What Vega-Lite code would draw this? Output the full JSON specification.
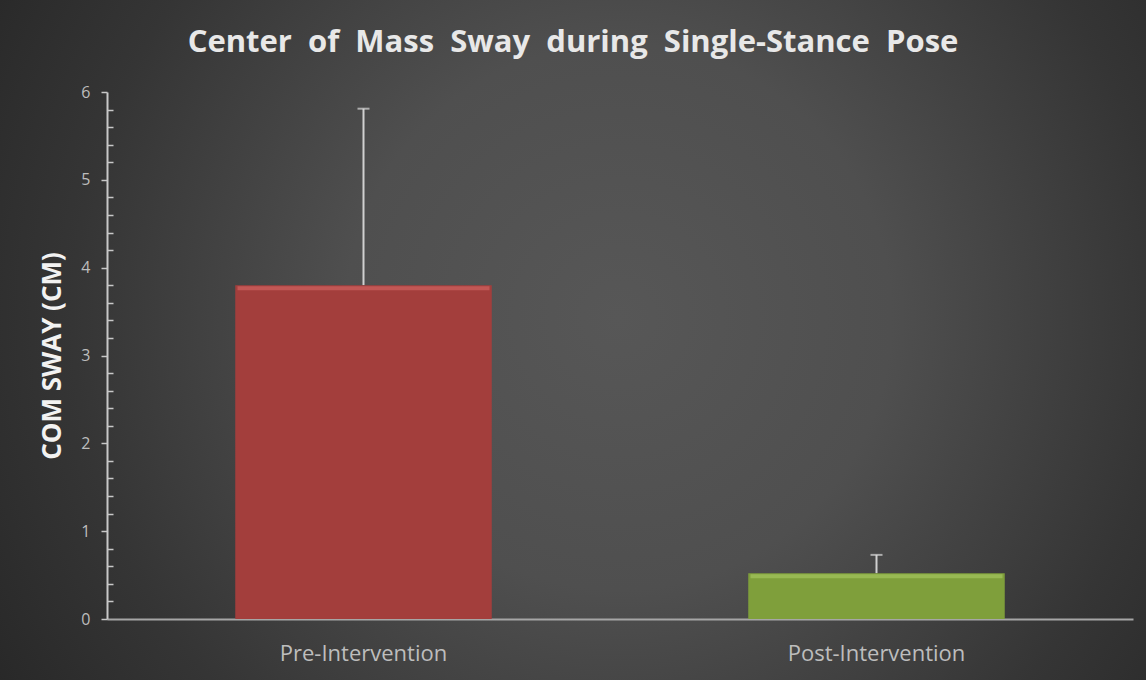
{
  "$schema": "https://vega.github.io/schema/vega-lite/v6.json",
  "autosize": {"type": "none"},
  "padding": 0,
  "width": 1146,
  "height": 680,
  "background": "#242424",
  "title": {
    "text": "Center\u00a0 of\u00a0 Mass\u00a0 Sway\u00a0 during\u00a0 Single-Stance\u00a0 Pose",
    "fontSize": 31,
    "fontWeight": "bold",
    "font": "Open Sans",
    "color": "#e8e8e8",
    "frame": "group",
    "anchor": "middle",
    "offset": -59
  },
  "config": {
    "view": {
      "stroke": null,
      "fill": {
        "gradient": "radial",
        "x1": 0.54, "y1": 0.48, "r1": 0,
        "x2": 0.54, "y2": 0.48, "r2": 0.68,
        "stops": [
          {"offset": 0, "color": "#575757"},
          {"offset": 0.35, "color": "#4f4f4f"},
          {"offset": 0.7, "color": "#353535"},
          {"offset": 1, "color": "#242424"}
        ]
      }
    },
    "font": "Open Sans"
  },
  "data": {
    "values": [
      {"phase": "Pre-Intervention", "mean": 3.8, "upper": 5.81},
      {"phase": "Post-Intervention", "mean": 0.52, "upper": 0.73}
    ]
  },
  "encoding": {
    "x": {
      "field": "phase",
      "type": "nominal",
      "sort": null,
      "scale": {"paddingInner": 0.5, "paddingOuter": 0.25, "range": [107, 1133]},
      "axis": {
        "title": null,
        "offset": -61,
        "labelAngle": 0,
        "labelFontSize": 22,
        "labelColor": "#bdbdbd",
        "labelPadding": 24,
        "ticks": false,
        "domainColor": "#a6a6a6",
        "domainWidth": 2
      }
    }
  },
  "resolve": {"scale": {"color": "independent"}},
  "layer": [
    {
      "mark": {"type": "rule", "color": "#d0d0d0", "strokeWidth": 2},
      "encoding": {
        "y": {"field": "mean", "type": "quantitative"},
        "y2": {"field": "upper"}
      }
    },
    {
      "mark": {"type": "tick", "color": "#d8d8d8", "thickness": 2, "size": 12},
      "encoding": {
        "y": {"field": "upper", "type": "quantitative"}
      }
    },
    {
      "mark": {"type": "bar"},
      "encoding": {
        "y": {
          "field": "mean",
          "type": "quantitative",
          "scale": {"domain": [0, 6], "nice": false, "range": [619, 92]},
          "axis": {
            "offset": -107,
            "title": "COM SWAY (CM)",
            "titleFontSize": 26,
            "titleFontWeight": "bold",
            "titleColor": "#f2f2f2",
            "titlePadding": 15,
            "values": [0, 0.2, 0.4, 0.6, 0.8, 1, 1.2, 1.4, 1.6, 1.8, 2, 2.2, 2.4, 2.6, 2.8, 3, 3.2, 3.4, 3.6, 3.8, 4, 4.2, 4.4, 4.6, 4.8, 5, 5.2, 5.4, 5.6, 5.8, 6],
            "tickCount": 100,
            "labelExpr": "datum.value % 1 === 0 ? format(datum.value, 'd') : ''",
            "labelOverlap": false,
            "labelFontSize": 16,
            "labelColor": "#bdbdbd",
            "labelPadding": 11,
            "grid": false,
            "domainColor": "#c8c8c8",
            "domainWidth": 2,
            "tickColor": "#c8c8c8",
            "tickWidth": 1.5,
            "tickSize": {"condition": {"test": "datum.value % 1 === 0", "value": 6}, "value": -6}
          }
        },
        "color": {
          "field": "phase",
          "type": "nominal",
          "scale": {"domain": ["Pre-Intervention", "Post-Intervention"], "range": ["#A33E3C", "#7F9F3B"]},
          "legend": null
        }
      }
    },
    {
      "mark": {"type": "tick", "thickness": 4, "size": 252, "yOffset": 3},
      "encoding": {
        "y": {"field": "mean", "type": "quantitative"},
        "color": {
          "field": "phase",
          "type": "nominal",
          "scale": {"domain": ["Pre-Intervention", "Post-Intervention"], "range": ["#CE6360", "#A2C45E"]},
          "legend": null
        }
      }
    }
  ]
}
